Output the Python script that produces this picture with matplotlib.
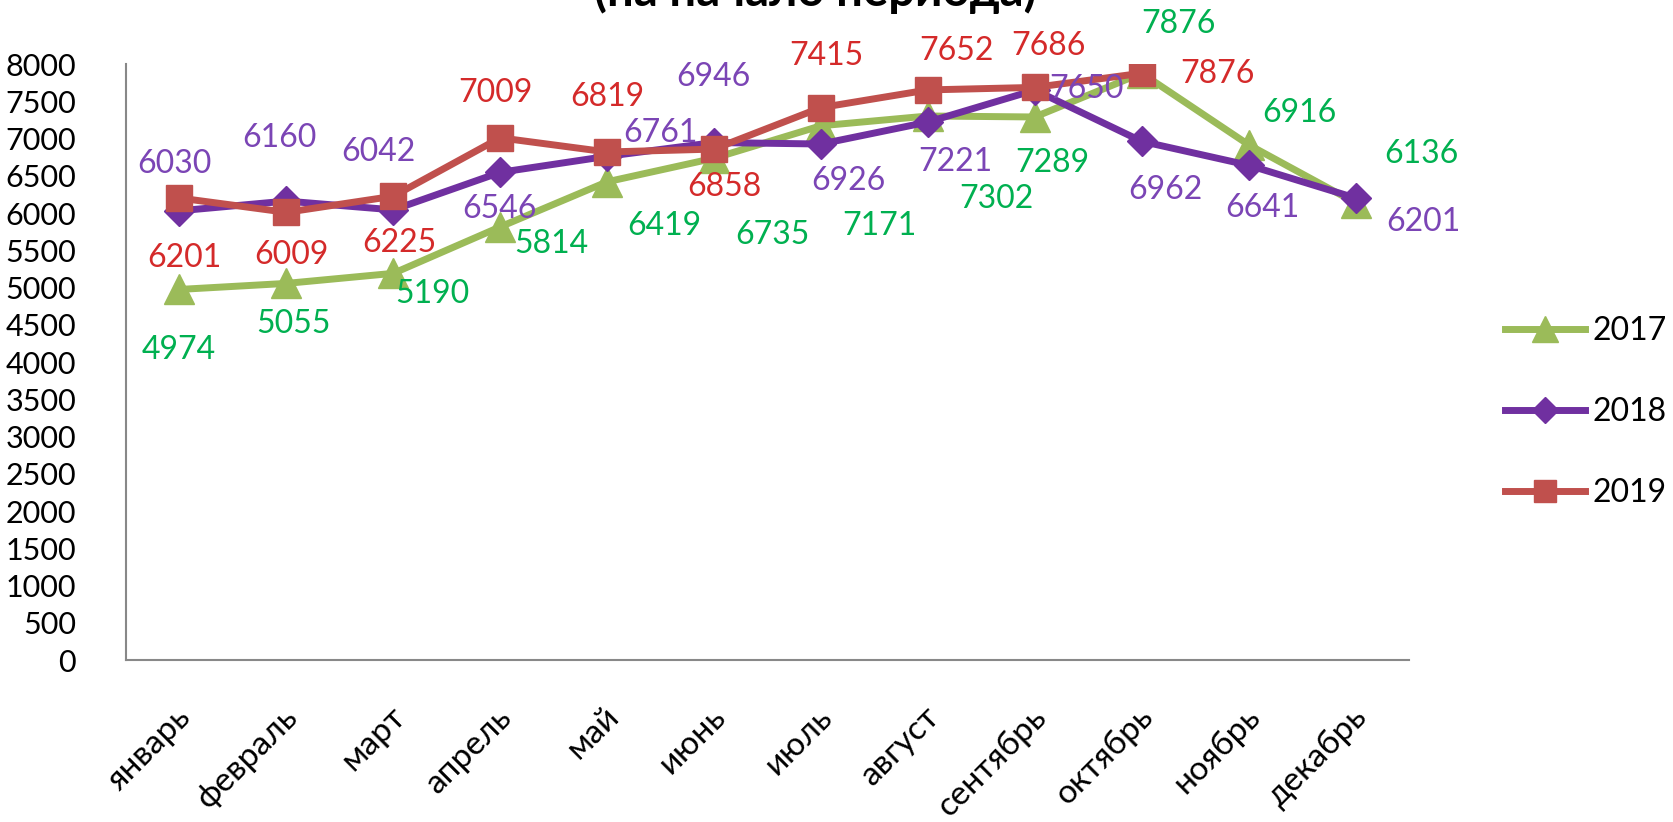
import matplotlib
matplotlib.use('Agg')
import matplotlib.pyplot as plt
import matplotlib.transforms as mtransforms
import numpy as np

plt.rcParams['font.family'] = ['Lato', 'DejaVu Sans']

months = ['январь', 'февраль', 'март', 'апрель', 'май', 'июнь',
          'июль', 'август', 'сентябрь', 'октябрь', 'ноябрь', 'декабрь']
y2017 = [4974, 5055, 5190, 5814, 6419, 6735, 7171, 7302, 7289, 7876, 6916, 6136]
y2018 = [6030, 6160, 6042, 6546, 6761, 6946, 6926, 7221, 7650, 6962, 6641, 6201]
y2019 = [6201, 6009, 6225, 7009, 6819, 6858, 7415, 7652, 7686, 7876]

# label offsets (pixels) -- hand placed like in the original
off2017 = [(-1, -61), (7, -41), (39, -21), (51, -17), (57, -44), (58, -77),
           (58, -100), (69, -83), (18, -46), (37, 49), (51, 32), (66, 49)]
off2018 = [(-5, 47), (-7, 63), (-15, 58), (-1, -37), (53, 23), (-1, 66),
           (27, -37), (27, -40), (52, 1), (24, -49), (14, -43), (68, -24)]
off2019 = [(5, -60), (5, -43), (6, -47), (-5, 45), (0, 55), (10, -38),
           (5, 52), (29, 39), (14, 41), (76, -1)]

fig = plt.figure(figsize=(16.74, 8.22), dpi=100)
ax = fig.add_axes([126/1674, 1 - 660/822, (1409 - 126)/1674, (660 - 64)/822])

x = np.arange(len(months))
series = [
    ('2017', y2017, off2017, '#9BBB59', '#00B050', '^', 22),
    ('2018', y2018, off2018, '#7030A0', '#7B45B5', 'D', 15),
    ('2019', y2019, off2019, '#C0504D', '#D42A2A', 's', 19),
]
for name, vals, offs, lc, tc, mk, ms in series:
    xs = x[:len(vals)]
    ax.plot(xs, vals, color=lc, lw=5, marker=mk, ms=ms, mec=lc, mfc=lc,
            label=name, solid_joinstyle='round')
for name, vals, offs, lc, tc, mk, ms in series:
    for xi, v, (dx, dy) in zip(x, vals, offs):
        ax.annotate(str(v), (xi, v), xytext=(dx, dy), textcoords='offset pixels',
                    ha='center', va='center', color=tc, fontsize=23)

ax.set_xlim(-0.5, len(months) - 0.5)
ax.set_ylim(0, 8000)
ax.set_yticks(np.arange(0, 8001, 500))
ax.set_xticks(x)
ax.set_xticklabels(months, rotation=45, ha='right', va='center',
                   rotation_mode='anchor', fontsize=24)
ax.tick_params(axis='y', length=0, pad=36, labelsize=22)
ax.tick_params(axis='x', length=0, pad=0)
shift = mtransforms.ScaledTranslation(0.07, -0.52, fig.dpi_scale_trans)
for lab in ax.get_xticklabels():
    lab.set_transform(lab.get_transform() + shift)
for s in ['top', 'right']:
    ax.spines[s].set_visible(False)
for s in ['left', 'bottom']:
    ax.spines[s].set_color('#888888')
    ax.spines[s].set_linewidth(1.5)

leg = fig.legend(loc='center left', bbox_to_anchor=(1505/1674, 1 - 412/822),
                 frameon=False, fontsize=23, handlelength=2.5, handletextpad=0.25,
                 labelspacing=1.6, borderpad=0, borderaxespad=0, markerscale=0.85)

fig.text(815/1674, 1 - 6/822, '(на начало периода)', ha='center', va='baseline',
         fontsize=34, fontweight='bold')

fig.savefig('out.png', dpi=100)
